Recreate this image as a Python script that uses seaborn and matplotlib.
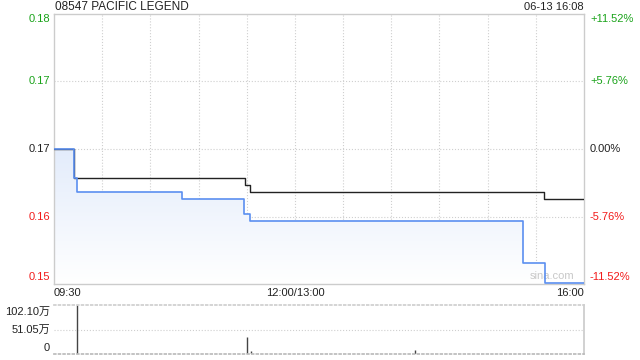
import numpy as np
import pandas as pd
import matplotlib
matplotlib.use("Agg")
import matplotlib.pyplot as plt
import seaborn as sns
from matplotlib.colors import LinearSegmentedColormap

# ---- data (minutes since 09:30, trading minutes; 330 = 16:00) ----
title = "08547 PACIFIC LEGEND"
stamp = "06-13 16:08"
prev_close = 0.17
price_t = [0, 12.5, 14.5, 80, 118, 122, 292, 306, 330]
price_v = [0.170, 0.1658, 0.1638, 0.1627, 0.1606, 0.1595, 0.1535, 0.1505, 0.1505]
avg_t = [0, 12.5, 119, 122, 305, 330]
avg_v = [0.170, 0.1658, 0.1648, 0.1638, 0.1627, 0.1627]
vol_t = [0, 14.3, 81.5, 120.2, 122.6, 224.8, 294.6, 307, 330]
vol_v = [1.0, 102.0, 0.8, 35.0, 6.0, 8.0, 1.0, 1.2, 1.0]  # 万
vol_max = 102.10
xtick_pos = [0, 150, 330]
xtick_lab = ["09:30", "12:00/13:00", "16:00"]
pct_levels = [11.52, 5.76, 0.0, -5.76, -11.52]

sns.set_theme(style="white")
plt.rcParams["font.family"] = ["Liberation Sans", "Noto Sans CJK SC", "DejaVu Sans"]

W, H = 640, 360
fig = plt.figure(figsize=(6.4, 3.6), dpi=100)
ax = fig.add_axes([54 / W, (H - 284) / H, 530 / W, 270 / H])
axv = fig.add_axes([54 / W, (H - 354) / H, 530 / W, 49 / H])

GREEN = "#1aa31a"
RED = "#f21b1b"
GRID = "#cfcfcf"
BLUE = "#5b8ff0"

ymin = prev_close * (1 - 0.1152)
ymax = prev_close * (1 + 0.1152)
levels = [prev_close * (1 + p / 100) for p in pct_levels]

dfp = pd.DataFrame({"t": price_t, "v": price_v})
dfa = pd.DataFrame({"t": avg_t, "v": avg_v})

# gradient fill under price line
poly = ax.fill_between(price_t, price_v, ymin, step="post", color="none", lw=0)
grad = np.linspace(1, 0, 256).reshape(-1, 1)
cmap = LinearSegmentedColormap.from_list("g", ["#ffffff", "#e3ecfb"])
im = ax.imshow(grad, cmap=cmap, aspect="auto", extent=[0, 330, ymin, prev_close],
               origin="upper", zorder=1)
im.set_clip_path(poly.get_paths()[0], transform=ax.transData)

sns.lineplot(data=dfa, x="t", y="v", ax=ax, color="#222222", lw=1.0, zorder=3,
             drawstyle="steps-post")
sns.lineplot(data=dfp, x="t", y="v", ax=ax, color=BLUE, lw=1.2, zorder=4,
             drawstyle="steps-post")

ax.set_xlim(0, 330)
ax.set_ylim(ymin, ymax)
for x in np.arange(30, 330, 30):
    ax.axvline(x, color=GRID, lw=0.8, ls=":", zorder=0)
for y in levels[1:-1]:
    ax.axhline(y, color=GRID, lw=0.8, ls=":", zorder=0)
for s in ax.spines.values():
    s.set_color("#cccccc")
    s.set_linewidth(1)
ax.set_xlabel("")
ax.set_ylabel("")
ax.set_yticks([])
ax.set_xticks([])

fs = 8
for p, y in zip(pct_levels, levels):
    col = GREEN if p > 0 else (RED if p < 0 else "#222222")
    dy = 0
    if p == pct_levels[0]:
        dy = -5
    elif p == pct_levels[-1]:
        dy = 7
    lab = "%.2f" % (np.floor(y * 100 + 1e-9) / 100)
    ax.annotate(lab, (0, y), xycoords=("axes fraction", "data"), xytext=(-4, dy),
                textcoords="offset pixels", ha="right", va="center", color=col, fontsize=fs)
    plab = ("+%.2f%%" % p) if p > 0 else ("%.2f%%" % p)
    ax.annotate(plab, (1, y), xycoords=("axes fraction", "data"), xytext=(6, dy),
                textcoords="offset pixels", ha="left", va="center", color=col, fontsize=fs)

has = ["left", "center", "right"]
for xp, xl, ha in zip(xtick_pos, xtick_lab, has):
    ax.annotate(xl, (xp, 0), xycoords=("data", "axes fraction"), xytext=(0, -9),
                textcoords="offset pixels", ha=ha, va="center", color="#222222", fontsize=fs)

ax.text(310, ymin + 0.0011, "sina.com", color="#c8c8c8", fontsize=8, ha="center", va="center")

fig.text(55 / W, 1 - 7 / H, title, ha="left", va="center", fontsize=8.5, color="#222222")
fig.text(584 / W, 1 - 7 / H, stamp, ha="right", va="center", fontsize=8, color="#222222")

# volume
axv.vlines(vol_t, 0, vol_v, color="#444444", lw=1.0)
axv.set_xlim(0, 330)
axv.set_ylim(0, vol_max)
axv.axhline(vol_max / 2, color=GRID, lw=0.8, ls=":")
axv.set_xticks([])
axv.set_yticks([])
axv.spines["left"].set_visible(False)
axv.spines["right"].set_color("#cccccc")
axv.spines["top"].set_color(GRID)
axv.spines["top"].set_linestyle(":")
axv.spines["bottom"].set_color("#bbbbbb")
axv.spines["bottom"].set_linestyle(":")
vl = [(vol_max, "%.2f万" % vol_max, -7), (vol_max / 2, "%.2f万" % (vol_max / 2), 0), (0, "0", 6)]
for y, l, dy in vl:
    axv.annotate(l, (0, y), xycoords=("axes fraction", "data"), xytext=(-4, dy),
                 textcoords="offset pixels", ha="right", va="center", color="#222222", fontsize=fs)

fig.savefig("out.png", dpi=100)
